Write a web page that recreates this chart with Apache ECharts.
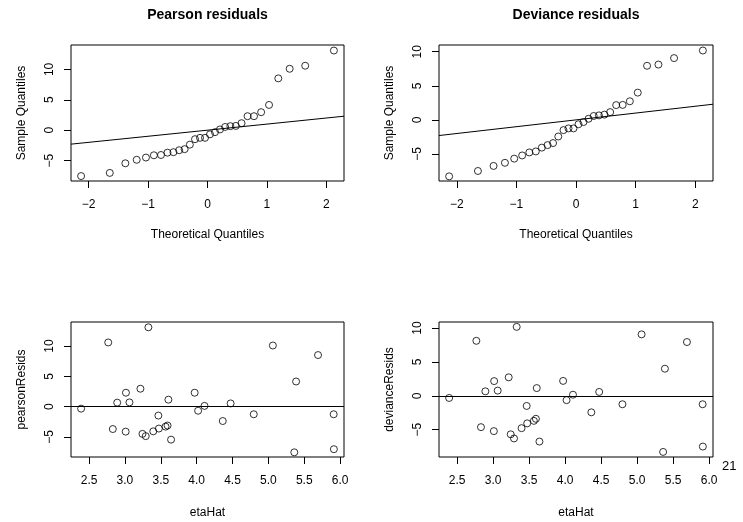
<!DOCTYPE html>
<html>
<head>
<meta charset="utf-8">
<script src="https://cdn.jsdelivr.net/npm/echarts@6/dist/echarts.min.js"></script>
<style>
  html, body { margin: 0; padding: 0; background: #fff; }
  #main { width: 743px; height: 522px; }
</style>
</head>
<body>
<div id="main"></div>
<script>
// normal quantiles for n = 30
const theoQuantiles = [-2.128, -1.645, -1.383, -1.192, -1.036, -0.903, -0.783, -0.674, -0.573, -0.477,
  -0.385, -0.297, -0.210, -0.126, -0.042, 0.042, 0.126, 0.210, 0.297, 0.385,
  0.477, 0.573, 0.674, 0.783, 0.903, 1.036, 1.192, 1.383, 1.645, 2.128]

const etaHat = [2.389, 2.767, 2.892, 3.014, 3.063, 3.216, 3.327, 3.606, 3.972, 4.109,
  4.020, 4.473, 5.062, 5.386, 5.692, 5.910, 3.466, 4.364, 4.796, 2.831,
  3.010, 3.244, 3.290, 3.395, 3.473, 3.566, 3.594, 3.643, 5.361, 5.913]

const pearsonResids = [-0.33, 10.6, 0.66, 2.3, 0.7, 2.96, 13.1, 1.15, 2.3, 0.12,
  -0.68, 0.53, 10.1, 4.15, 8.52, -1.26, -1.48, -2.38, -1.26, -3.7,
  -4.13, -4.5, -4.87, -4.08, -3.62, -3.3, -3.12, -5.45, -7.55, -7.03]

const devianceResids = [-0.32, 8.12, 0.66, 2.17, 0.77, 2.73, 10.18, 1.14, 2.2, 0.16,
  -0.64, 0.57, 9.07, 4.0, 7.94, -1.25, -1.5, -2.44, -1.25, -4.63,
  -5.22, -5.69, -6.3, -4.78, -4.07, -3.7, -3.4, -6.76, -8.29, -7.5]

const residTicks = [-5, 0, 5, 10]
const quantileTicks = [-2, -1, 0, 1, 2]
const etaTicks = [2.5, 3.0, 3.5, 4.0, 4.5, 5.0, 5.5, 6.0]
const panelTitles = ['Pearson residuals', 'Deviance residuals']

const font = 'Liberation Sans, Helvetica, Arial, sans-serif'
const qRange = [-2.298, 2.298]
const etaRange = [2.248, 6.054]
const refLine = { intercept: 0, slope: 1 } // qqline

function sorted (arr) {
  return arr.slice().sort((a, b) => a - b)
}
function minusSign (v) {
  return String(v).replace('-', '\u2212')
}

function xAxis (gi, range, ticks, name, fmt, gap) {
  return {
    type: 'value', gridIndex: gi, min: range[0], max: range[1],
    name: name, nameLocation: 'middle', nameGap: gap,
    nameTextStyle: { fontFamily: font, fontSize: 12, color: '#000' },
    axisLine: { show: false, onZero: false },
    splitLine: { show: false },
    axisTick: { show: true, length: 7, customValues: ticks, lineStyle: { color: '#000' } },
    axisLabel: { customValues: ticks, margin: 18, fontFamily: font, fontSize: 12, color: '#000', formatter: fmt }
  }
}
function yAxis (gi, min, max, name) {
  return {
    type: 'value', gridIndex: gi, min: min, max: max,
    name: name, nameLocation: 'middle', nameGap: 43,
    nameTextStyle: { fontFamily: font, fontSize: 12, color: '#000' },
    axisLine: { show: false, onZero: false },
    splitLine: { show: false },
    axisTick: { show: true, length: 7, customValues: residTicks, lineStyle: { color: '#000' } },
    axisLabel: { customValues: residTicks, rotate: 90, margin: 15, fontFamily: font, fontSize: 12, color: '#000', formatter: minusSign }
  }
}

const pointStyle = {
  type: 'scatter', symbol: 'circle', symbolSize: 7, silent: true,
  itemStyle: { color: 'rgba(0,0,0,0)', borderColor: '#000', borderWidth: 1 }
}
function qqSeries (gi, resids) {
  const ys = sorted(resids)
  return Object.assign({}, pointStyle, {
    xAxisIndex: gi, yAxisIndex: gi,
    data: theoQuantiles.map((q, i) => [q, ys[i]])
  })
}
function qqLine (gi) {
  return {
    type: 'line', xAxisIndex: gi, yAxisIndex: gi, symbol: 'none', silent: true,
    lineStyle: { color: '#000', width: 1 },
    data: qRange.map(x => [x, refLine.intercept + refLine.slope * x])
  }
}
function residSeries (gi, resids) {
  return Object.assign({}, pointStyle, {
    xAxisIndex: gi, yAxisIndex: gi,
    data: etaHat.map((e, i) => [e, resids[i]]),
    markLine: {
      silent: true, symbol: 'none', label: { show: false },
      lineStyle: { color: '#000', width: 1, type: 'solid' },
      data: [{ yAxis: 0 }]
    }
  })
}

const chart = echarts.init(document.getElementById('main'))
const gridBox = { show: true, borderColor: '#000', borderWidth: 1, backgroundColor: 'transparent' }
chart.setOption({
  backgroundColor: '#fff',
  animation: false,
  grid: [
    Object.assign({ left: 71, top: 45, width: 273, height: 136 }, gridBox),
    Object.assign({ left: 439, top: 45, width: 274, height: 136 }, gridBox),
    Object.assign({ left: 71, top: 322, width: 273, height: 135 }, gridBox),
    Object.assign({ left: 439, top: 322, width: 274, height: 135 }, gridBox)
  ],
  xAxis: [
    xAxis(0, qRange, quantileTicks, 'Theoretical Quantiles', minusSign, 48),
    xAxis(1, qRange, quantileTicks, 'Theoretical Quantiles', minusSign, 48),
    xAxis(2, etaRange, etaTicks, 'etaHat', v => v.toFixed(1), 50),
    xAxis(3, etaRange, etaTicks, 'etaHat', v => v.toFixed(1), 50)
  ],
  yAxis: [
    yAxis(0, -8.36, 14.01, 'Sample Quantiles'),
    yAxis(1, -8.97, 10.99, 'Sample Quantiles'),
    yAxis(2, -8.32, 13.98, 'pearsonResids'),
    yAxis(3, -9.04, 10.9, 'devianceResids')
  ],
  graphic: [
    { type: 'text', x: 207.5, y: 15, style: { text: panelTitles[0], fontFamily: font, fontSize: 14, fontWeight: 'bold', fill: '#000', align: 'center', verticalAlign: 'middle' } },
    { type: 'text', x: 576, y: 15, style: { text: panelTitles[1], fontFamily: font, fontSize: 14, fontWeight: 'bold', fill: '#000', align: 'center', verticalAlign: 'middle' } },
    { type: 'text', x: 722, y: 466, style: { text: '21', fontFamily: font, fontSize: 13, fill: '#000', align: 'left', verticalAlign: 'middle' } }
  ],
  series: [
    qqSeries(0, pearsonResids),
    qqLine(0),
    qqSeries(1, devianceResids),
    qqLine(1),
    residSeries(2, pearsonResids),
    residSeries(3, devianceResids)
  ]
})
</script>
</body>
</html>
